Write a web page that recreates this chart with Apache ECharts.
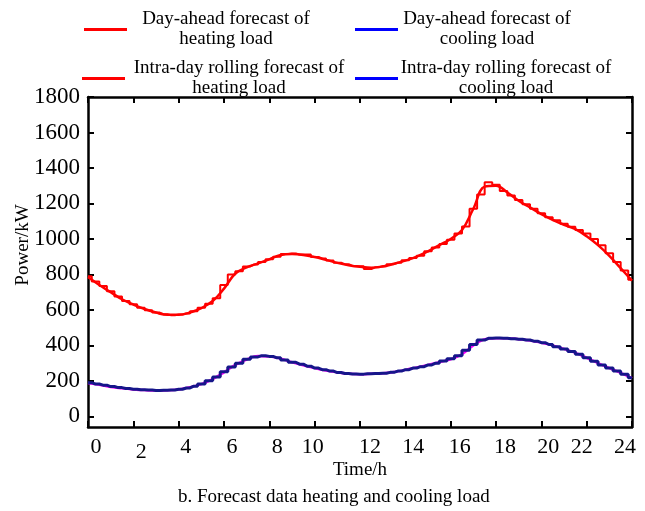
<!DOCTYPE html>
<html>
<head>
<meta charset="utf-8">
<script src="https://cdn.jsdelivr.net/npm/echarts@6/dist/echarts.min.js"></script>
<style>html,body{margin:0;padding:0;background:#fff}#c{width:645px;height:511px}</style>
</head>
<body>
<div id="c"></div>
<script>
// ---- data ----
const xTickLabels = [0, 2, 4, 6, 8, 10, 12, 14, 16, 18, 20, 22, 24];
const yTickValues = [0, 200, 400, 600, 800, 1000, 1200, 1400, 1600, 1800];
const seriesNames = [
  'Day-ahead forecast of heating load',
  'Day-ahead forecast of cooling load',
  'Intra-day rolling forecast of heating load',
  'Intra-day rolling forecast of cooling load'
];
// day-ahead forecasts, one value every 0.5 h (0 .. 24 h)
const dayAheadHeat = [785, 740, 700, 660, 630, 605, 585, 572, 572, 585, 610, 650, 720, 805, 840, 862,
  885, 910, 915, 910, 898, 882, 865, 852, 843, 838, 845, 860, 878, 900, 930, 965,
  1000, 1050, 1170, 1295, 1300, 1262, 1215, 1178, 1140, 1108, 1080, 1055, 1015, 965, 905, 835, 765];
const dayAheadCool = [188, 178, 166, 158, 152, 148, 146, 147, 152, 164, 182, 210, 248, 290, 320, 340,
  338, 325, 305, 288, 272, 258, 248, 240, 238, 240, 243, 250, 262, 276, 290, 305,
  322, 350, 400, 435, 440, 440, 435, 428, 415, 400, 380, 358, 330, 300, 272, 245, 215];
// intra-day rolling forecasts, one value every 20 min (0 .. 24 h)
const intraHeat = [790, 760, 735, 705, 675, 650, 632, 612, 598, 585, 576, 570, 574, 580, 592, 612,
  635, 665, 740, 800, 818, 845, 856, 870, 886, 900, 915, 918, 912, 912, 898, 890,
  878, 866, 858, 848, 846, 830, 840, 846, 858, 866, 880, 893, 905, 930, 952, 972,
  996, 1030, 1070, 1170, 1250, 1320, 1305, 1270, 1245, 1220, 1195, 1170, 1145, 1122, 1105, 1085,
  1068, 1050, 1030, 1000, 965, 920, 870, 822, 770];
const intraCool = [190, 182, 176, 168, 162, 157, 153, 150, 148, 146, 147, 149, 153, 160, 170, 182,
  200, 222, 252, 278, 300, 322, 335, 342, 338, 330, 318, 305, 294, 283, 272, 263,
  255, 247, 242, 239, 238, 240, 241, 243, 248, 255, 263, 272, 280, 290, 300, 312,
  325, 342, 372, 405, 430, 440, 441, 440, 438, 435, 430, 424, 415, 405, 393, 380,
  366, 350, 330, 310, 290, 272, 255, 238, 218];

// label nudges (px) to reproduce hand-placed tick labels
const xLabelShift = {0: 8, 2: 8, 4: 7, 6: 8, 8: 8, 10: -2, 12: 10, 14: 8, 16: 9, 18: 9, 20: 7, 22: -5, 24: -7};

const FONT = 'Liberation Serif';
const half = arr => arr.map((v, i) => [i * 0.5, v]);
const third = arr => arr.map((v, i) => [i / 3, v]);

const rich = {};
xTickLabels.forEach(v => {
  const s = xLabelShift[v];
  rich['l' + v] = {
    fontFamily: FONT, fontSize: 22, color: '#000',
    padding: [v === 2 ? 5 : 0, s < 0 ? -2 * s : 0, 0, s > 0 ? 2 * s : 0]
  };
});

const chart = echarts.init(document.getElementById('c'));

function legendCfg(name, color, left, top, width, l1, l2) {
  return {
    left: left, top: top, padding: 0, orient: 'horizontal',
    icon: 'rect', itemWidth: 43, itemHeight: 3,
    selectedMode: false,
    data: [{name: name, itemStyle: {color: color}}],
    formatter: () => '{t|' + l1 + '}\n{t|' + l2 + '}',
    textStyle: {
      rich: {t: {fontFamily: FONT, fontSize: 19, lineHeight: 20, color: '#000', width: width, align: 'center'}}
    }
  };
}

chart.setOption({
  animation: false,
  backgroundColor: '#fff',
  title: {
    text: 'b. Forecast data heating and cooling load',
    left: 178, top: 488, padding: 0,
    textStyle: {fontFamily: FONT, fontSize: 19, fontWeight: 'normal', color: '#000'}
  },
  legend: [
    legendCfg(seriesNames[0], '#ff0000', 84, 10, 188, 'Day-ahead forecast of', 'heating load'),
    legendCfg(seriesNames[1], '#0000ff', 355, 10, 168, 'Day-ahead forecast of', 'cooling load'),
    legendCfg(seriesNames[2], '#ff0000', 82, 59, 218, 'Intra-day rolling forecast of', 'heating load'),
    legendCfg(seriesNames[3], '#0000ff', 355, 59, 206, 'Intra-day rolling forecast of', 'cooling load')
  ],
  grid: {left: 88, right: 13, top: 97, bottom: 84},
  xAxis: [{
    type: 'value', min: 0, max: 24, interval: 2,
    name: 'Time/h', nameLocation: 'middle', nameGap: 34, nameMoveOverlap: false,
    nameTextStyle: {fontFamily: FONT, fontSize: 19, color: '#000'},
    axisLine: {onZero: false, lineStyle: {color: '#000', width: 2.5}},
    axisTick: {inside: true, length: 6, lineStyle: {color: '#000', width: 2}},
    axisLabel: {margin: 9, formatter: v => '{l' + v + '|' + v + '}', rich: rich},
    splitLine: {show: false}
  }, {
    type: 'value', position: 'top', min: 0, max: 24, interval: 2,
    axisLine: {onZero: false, lineStyle: {color: '#000', width: 2.5}},
    axisTick: {inside: true, length: 6, lineStyle: {color: '#000', width: 2}},
    axisLabel: {show: false}, splitLine: {show: false}
  }],
  yAxis: [{
    type: 'value', min: -60, max: 1800,
    name: 'Power/kW', nameLocation: 'middle', nameGap: 55, nameRotate: 90, nameMoveOverlap: false,
    nameTextStyle: {fontFamily: FONT, fontSize: 19, color: '#000', padding: [0, 0, 0, 34]},
    axisLine: {onZero: false, lineStyle: {color: '#000', width: 2.5}},
    axisTick: {inside: true, length: 6, customValues: yTickValues, lineStyle: {color: '#000', width: 2}},
    axisLabel: {margin: 8, customValues: yTickValues, formatter: v => String(v),
      fontFamily: FONT, fontSize: 23, color: '#000'},
    splitLine: {show: false}
  }, {
    type: 'value', position: 'right', min: -60, max: 1800,
    axisLine: {onZero: false, lineStyle: {color: '#000', width: 2.5}},
    axisTick: {inside: true, length: 6, customValues: yTickValues, lineStyle: {color: '#000', width: 2}},
    axisLabel: {show: false}, splitLine: {show: false}
  }],
  series: [
    {name: seriesNames[0], type: 'line', data: half(dayAheadHeat), smooth: 0.4, showSymbol: false,
      lineStyle: {color: '#ff0000', width: 2.5}, itemStyle: {color: '#ff0000'}, z: 2},
    {name: seriesNames[1], type: 'line', data: half(dayAheadCool), smooth: 0.4, showSymbol: false,
      lineStyle: {color: '#ff00ff', width: 2.5}, itemStyle: {color: '#0000ff'}, z: 2},
    {name: seriesNames[2], type: 'line', data: third(intraHeat), step: 'middle', showSymbol: false,
      lineStyle: {color: '#ff0000', width: 2}, itemStyle: {color: '#ff0000'}, z: 3},
    {name: seriesNames[3], type: 'line', data: third(intraCool), step: 'middle', showSymbol: false,
      lineStyle: {color: '#16168a', width: 3}, itemStyle: {color: '#0000ff'}, z: 3}
  ]
});
</script>
</body>
</html>
